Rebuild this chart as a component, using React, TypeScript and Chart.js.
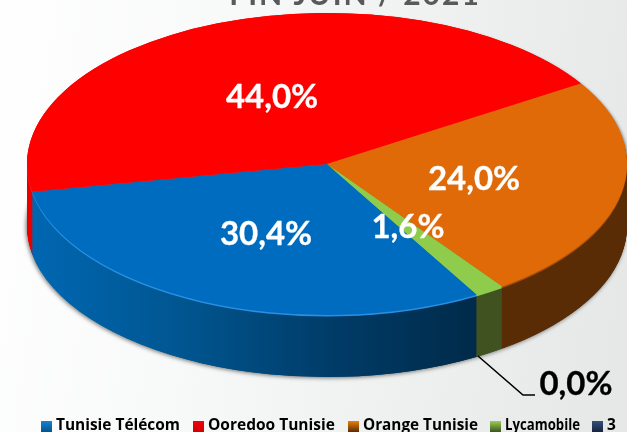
import React, { useEffect, useRef } from "react";
import { Chart, registerables } from "chart.js";

Chart.register(...registerables);

const categories = ["Tunisie Télécom", "Ooredoo Tunisie", "Orange Tunisie", "Lycamobile", "3"];
const shares = [30.4, 44.0, 24.0, 1.6, 0.0];
const valueLabels = ["30,4%", "44,0%", "24,0%", "1,6%", "0,0%"];
const titleText = "FIN JUIN / 2021";

const faceColors = ["#006cbf", "#ff0000", "#e06a08", "#8fcc4c", "#1f3864"];
const rimColors = ["#2a90e2", "#ff2a2a", "#a85004", "#8fcc4c", "#1f3864"];
const sideStops: string[][] = [
  ["#0066b0", "#00558f", "#003c68", "#002a49"],
  ["#e80000", "#d00000", "#900000", "#600000"],
  ["#5a2c05", "#5a2c05", "#5a2c05", "#5a2c05"],
  ["#3f5220", "#3f5220", "#3f5220", "#3f5220"],
  ["#16243f", "#16243f", "#16243f", "#16243f"],
];
const legendMarkX = [41, 193, 348, 490, 592];
const legendTextWidth = [124, 127, 115, 75, 12];
const legendMarkFill = ["#1a80d0", "#f00010", "#e8800c", "#98d050", "#34507c"];
const labelSpots = [
  { x: 266, y: 245, color: "#fff" },
  { x: 272, y: 108, color: "#fff" },
  { x: 474, y: 190, color: "#fff" },
  { x: 408, y: 238, color: "#fff" },
  { x: 576, y: 395, color: "#000" },
];

const CX = 327;
const CY = 164;
const RX = 300;
const RY = 151;
const DEPTH = 62;

const pie3d = {
  id: "pie3d",
  beforeDraw(chart: any) {
    const { ctx, width, height } = chart;
    const g = ctx.createLinearGradient(0, 200, width, 300);
    g.addColorStop(0, "#fefefe");
    g.addColorStop(0.3, "#f8f9f9");
    g.addColorStop(1, "#e6e8e8");
    ctx.save();
    ctx.fillStyle = g;
    ctx.fillRect(0, 0, width, height);
    ctx.restore();
  },
  beforeDatasetsDraw(chart: any) {
    const { ctx } = chart;
    const arcs = chart.getDatasetMeta(0).data;
    if (!arcs.length) return false;
    const a0 = arcs[0];
    const r = a0.outerRadius;
    const sx = RX / r;
    const sy = RY / r;
    const drawLayer = (d: number, fill: (i: number) => any) => {
      arcs.forEach((arc: any, i: number) => {
        ctx.save();
        ctx.translate(CX, CY + d);
        ctx.scale(sx, sy);
        ctx.translate(-arc.x, -arc.y);
        const o = arc.options;
        arc.options = { ...o, backgroundColor: fill(i), borderWidth: 0 };
        arc.draw(ctx);
        arc.options = o;
        ctx.restore();
      });
    };
    const sideFills = sideStops.map((stops) => {
      const x0 = a0.x + (40 - CX) / sx;
      const x1 = a0.x + (478 - CX) / sx;
      const g = ctx.createLinearGradient(x0, 0, x1, 0);
      stops.forEach((c, k) => g.addColorStop(k / (stops.length - 1), c));
      return g;
    });
    // soft shadow: faint on the upper right of the disc, firmer under the drum
    ctx.save();
    ctx.shadowColor = "rgba(0,0,0,0.4)";
    ctx.shadowBlur = 3;
    ctx.shadowOffsetX = 2;
    ctx.shadowOffsetY = 2;
    drawLayer(0, (i) => faceColors[i]);
    ctx.shadowColor = "rgba(0,0,0,0.55)";
    ctx.shadowBlur = 4;
    ctx.shadowOffsetX = -1;
    ctx.shadowOffsetY = 1;
    drawLayer(DEPTH, (i) => sideFills[i]);
    ctx.restore();
    for (let d = DEPTH; d >= 2; d--) drawLayer(d, (i) => sideFills[i]);
    drawLayer(1.5, (i) => rimColors[i]);
    drawLayer(0, (i) => faceColors[i]);
    return false;
  },
  afterDraw(chart: any) {
    const { ctx } = chart;
    ctx.save();
    // title, cut by the top of the picture
    ctx.fillStyle = "#595959";
    ctx.font = 'bold 30px Lato, "Noto Sans", sans-serif';
    ctx.textAlign = "center";
    ctx.textBaseline = "alphabetic";
    (ctx as any).letterSpacing = "2px";
    ctx.fillText(titleText, 355, 5);
    (ctx as any).letterSpacing = "0px";

    // leader of the zero slice
    ctx.strokeStyle = "#000";
    ctx.lineWidth = 1.6;
    ctx.beginPath();
    ctx.moveTo(478, 356);
    ctx.lineTo(523, 395);
    ctx.lineTo(535, 395);
    ctx.stroke();

    // value labels
    ctx.font = 'bold 33px Lato, "Noto Sans", sans-serif';
    ctx.lineJoin = "round";
    ctx.lineWidth = 0.3;
    valueLabels.forEach((t, i) => {
      const s = labelSpots[i];
      ctx.fillStyle = s.color;
      ctx.strokeStyle = s.color;
      ctx.fillText(t, s.x, s.y);
      ctx.strokeText(t, s.x, s.y);
    });

    // legend
    ctx.textAlign = "left";
    ctx.font = 'bold 15.5px "Open Sans", Lato, sans-serif';
    (chart.data.labels as string[]).forEach((t, i) => {
      const x = legendMarkX[i];
      const g = ctx.createLinearGradient(0, 421, 0, 432);
      g.addColorStop(0, legendMarkFill[i]);
      g.addColorStop(1, sideStops[i][1]);
      ctx.fillStyle = g;
      ctx.fillRect(x, 421, 11, 11);
      ctx.fillStyle = "#000";
      ctx.fillText(t, x + 15, 430, legendTextWidth[i]);
    });
    ctx.restore();
  },
};

export default function App() {
  const ref = useRef<HTMLCanvasElement | null>(null);
  useEffect(() => {
    document.body.style.margin = "0";
    document.body.style.overflow = "hidden";
    const chart = new Chart(ref.current as HTMLCanvasElement, {
      type: "pie",
      data: {
        labels: categories,
        datasets: [{ data: shares, backgroundColor: faceColors, borderWidth: 0 }],
      },
      options: {
        responsive: false,
        animation: false,
        rotation: 150,
        layout: { padding: 0 },
        plugins: { legend: { display: false }, tooltip: { enabled: false }, title: { display: false } },
      },
      plugins: [pie3d],
    } as any);
    return () => chart.destroy();
  }, []);
  return <canvas ref={ref} width={627} height={432} style={{ display: "block" }} />;
}
